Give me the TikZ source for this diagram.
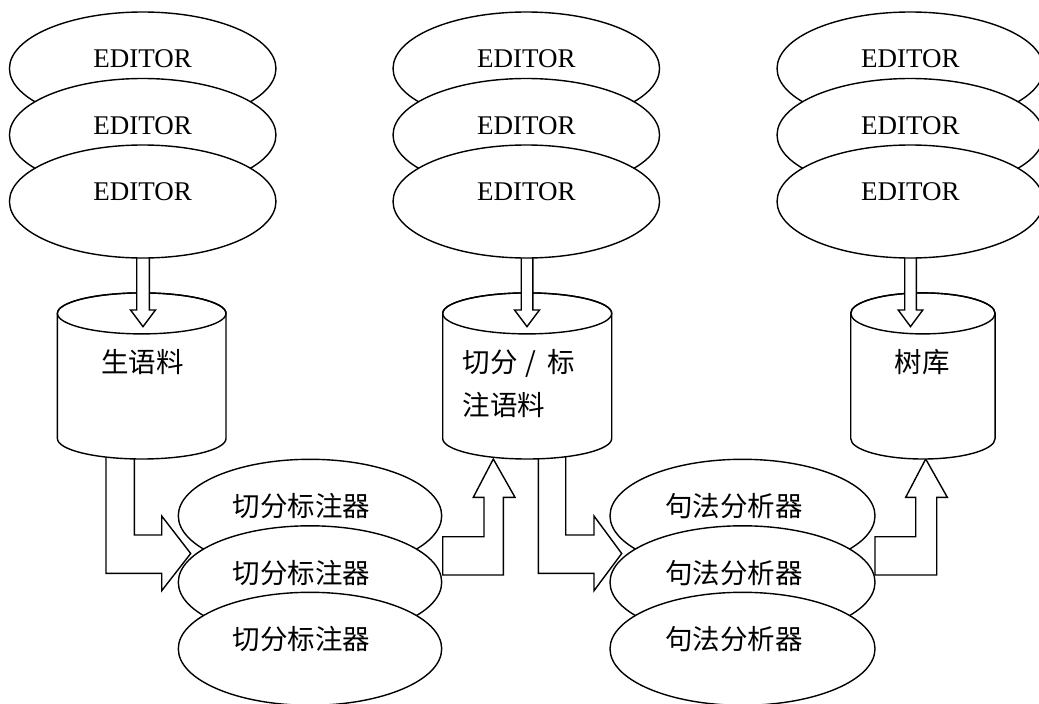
\documentclass[tikz,border=0pt]{standalone}
\usepackage{fontspec}
\setmainfont{Liberation Serif}
\newfontfamily\cjk{Noto Sans CJK SC}
\usetikzlibrary{shapes.geometric}
\tikzset{
  ln/.style={draw=black, line width=1.4pt, fill=white, line join=miter},
  ell/.style={ln, ellipse, inner sep=0pt, minimum height=113pt},
  edtext/.style={font=\fontsize{27}{32}\selectfont, inner sep=0pt},
  cntext/.style={font=\cjk\fontsize{27.5}{33}\selectfont, inner sep=0pt},
}
\newcommand\mycyl[2]{% cx, rx
  \filldraw[ln] ({#1-#2},313.4) -- ({#1-#2},438.5)
     arc[start angle=180,end angle=360,x radius=#2pt,y radius=20.5pt]
     -- ({#1+#2},313.4)
     arc[start angle=0,end angle=180,x radius=#2pt,y radius=20.5pt] -- cycle;
  \draw[ln, fill=none] (#1,313.4) ellipse[x radius=#2pt, y radius=20.5pt];
}
\newcommand\mydownarrow[3]{% cx, half shaft, half head
  \filldraw[ln] ({#1-#2},250) -- ({#1-#2},310) -- ({#1-#3},310) -- (#1,326.6)
     -- ({#1+#3},310) -- ({#1+#2},310) -- ({#1+#2},250) -- cycle;
}
\begin{document}
\begin{tikzpicture}[x=1pt,y=-1pt]
\useasboundingbox (0,0) rectangle (1039,704);

% bent arrows (below cylinders and ellipses)
\filldraw[ln] (106,445) -- (106,573.3) -- (161.7,573.3) -- (161.7,590.7) -- (190.7,553.5)
   -- (161.7,516) -- (161.7,535) -- (134.3,535) -- (134.3,445) -- cycle;
\filldraw[ln] (538.3,445) -- (538.3,573.3) -- (594,573.3) -- (594,590.7) -- (621.7,553.5)
   -- (594,516) -- (594,535) -- (565.7,535) -- (565.7,445) -- cycle;
\filldraw[ln] (442.7,575) -- (503.3,575) -- (503.3,497.3) -- (515,497.3) -- (493.3,459)
   -- (473.3,497.3) -- (484,497.3) -- (484,536.7) -- (442.7,536.7) -- cycle;
\filldraw[ln] (875,575) -- (936.7,575) -- (936.7,497.3) -- (947.3,497.3) -- (925.7,459)
   -- (905.7,497.3) -- (915.7,497.3) -- (915.7,536.7) -- (875,536.7) -- cycle;

% cylinders
\mycyl{141.7}{84.3}
\mycyl{527.2}{84.5}
\mycyl{922.9}{72.2}
\node[cntext] (c1) at (142.5,361.7) {生语料};
\node[cntext, anchor=west] (c2a) at (462.5,363) {切分\hspace{8pt}/\hspace{11pt}标};
\node[cntext, anchor=west] (c2b) at (462.5,405) {注语料};
\node[cntext] (c3) at (922,361.7) {树库};

% down arrows
\mydownarrow{143}{6.3}{12.5}
\mydownarrow{527}{5.8}{12.5}
\mydownarrow{910.5}{5.8}{12.3}

% editor ellipses
\foreach \cx/\g in {142.7/1,526.3/2,910.3/3}{
  \foreach \cy/\k in {68.5/1,135/2,201.5/3}{
    \node[ell, minimum width=266.5pt] (e\g\k) at (\cx,\cy) {};
    \node[edtext] (e\g\k t) at ([yshift=9.5pt]e\g\k.center) {EDITOR};
  }
}

% tagger and parser ellipses
\foreach \cy/\k in {515.8/1,582.3/2,648.8/3}{
  \node[ell, minimum width=263.4pt] (t\k) at (310,\cy) {};
  \node[cntext] (t\k t) at ([xshift=-8.3pt,yshift=9.3pt]t\k.center) {切分标注器};
  \node[ell, minimum width=265pt] (p\k) at (742.5,\cy) {};
  \node[cntext] (p\k t) at ([xshift=-8.7pt,yshift=9.3pt]p\k.center) {句法分析器};
}
\end{tikzpicture}
\end{document}
